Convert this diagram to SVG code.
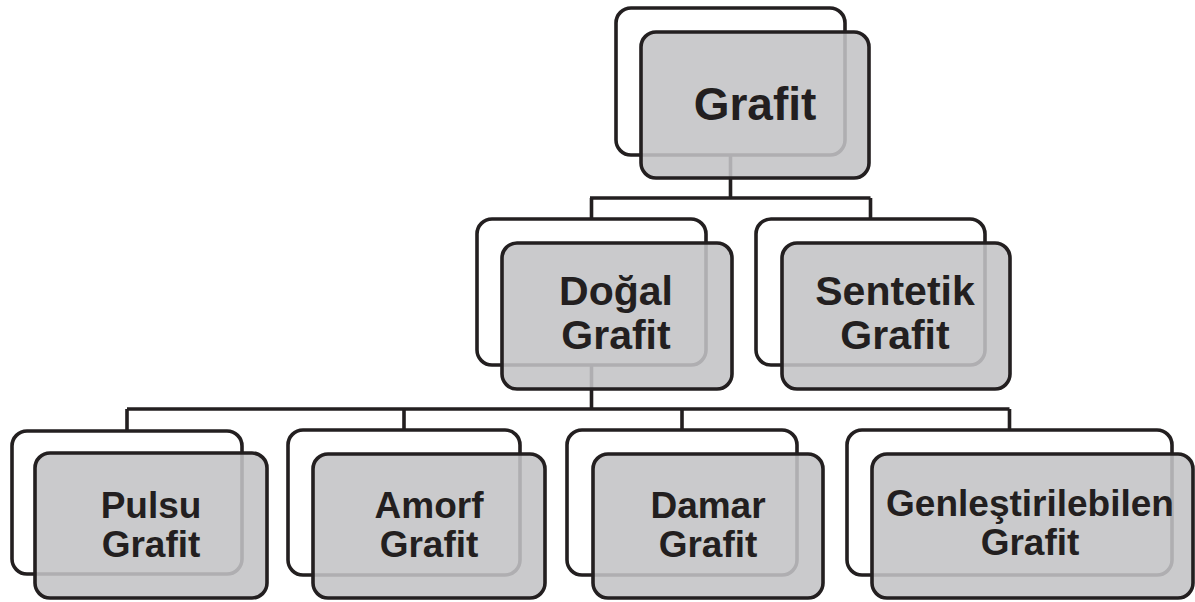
<svg xmlns="http://www.w3.org/2000/svg" width="1195" height="602" viewBox="0 0 1195 602">
  <style>
    .back { fill: #ffffff; stroke: #231f20; stroke-width: 3.6; }
    .front { fill: #c3c3c5; fill-opacity: 0.88; stroke: #231f20; stroke-width: 3.6; }
    .wire { fill: none; stroke: #231f20; stroke-width: 3.6; }
    .lbl { font-family: "Liberation Sans", Arial, sans-serif; font-weight: bold; fill: #231f20; text-anchor: middle; }
    .l1 { font-size: 46px; }
    .l2 { font-size: 41px; }
    .l3 { font-size: 37px; }
  </style>
  <rect width="1195" height="602" fill="#ffffff"/>

  <!-- tree connectors -->
  <g id="connectors">
    <path class="wire" d="M730.5 155 V198 M590 198 H870.5 M591.5 198 V219 M870.5 198 V219"/>
    <path class="wire" d="M591.5 365 V409 M127 409 H1009.5 M127 409 V431 M404 409 V430 M682 409 V430 M1009.5 409 V430"/>
  </g>

  <g id="node-grafit">
    <rect class="back" x="616" y="8" width="229" height="147" rx="15"/>
    <rect class="front" x="641" y="32" width="228" height="146" rx="15"/>
    <text class="lbl l1" x="755" y="120">Grafit</text>
  </g>

  <g id="node-dogal">
    <rect class="back" x="477" y="219" width="229" height="146" rx="15"/>
    <rect class="front" x="502" y="243" width="230" height="146" rx="15"/>
    <text class="lbl l2" x="616" y="305">Doğal</text>
    <text class="lbl l2" x="616" y="349">Grafit</text>
  </g>

  <g id="node-sentetik">
    <rect class="back" x="756" y="219" width="229" height="146" rx="15"/>
    <rect class="front" x="782" y="243" width="228" height="146" rx="15"/>
    <text class="lbl l2" x="895" y="305">Sentetik</text>
    <text class="lbl l2" x="895" y="349">Grafit</text>
  </g>

  <g id="node-pulsu">
    <rect class="back" x="12" y="431" width="230" height="143" rx="15"/>
    <rect class="front" x="35" y="453" width="232" height="145" rx="15"/>
    <text class="lbl l3" x="151" y="518">Pulsu</text>
    <text class="lbl l3" x="151" y="557">Grafit</text>
  </g>

  <g id="node-amorf">
    <rect class="back" x="288" y="430" width="232" height="145" rx="15"/>
    <rect class="front" x="313" y="454" width="232" height="144" rx="15"/>
    <text class="lbl l3" x="429" y="518">Amorf</text>
    <text class="lbl l3" x="429" y="557">Grafit</text>
  </g>

  <g id="node-damar">
    <rect class="back" x="567" y="430" width="230" height="145" rx="15"/>
    <rect class="front" x="593" y="454" width="230" height="144" rx="15"/>
    <text class="lbl l3" x="708" y="518">Damar</text>
    <text class="lbl l3" x="708" y="557">Grafit</text>
  </g>

  <g id="node-genlestirilebilen">
    <rect class="back" x="847" y="430" width="325" height="145" rx="15"/>
    <rect class="front" x="872" y="454" width="321" height="144" rx="15"/>
    <text class="lbl l3" x="1030" y="516">Genleştirilebilen</text>
    <text class="lbl l3" x="1030" y="555">Grafit</text>
  </g>
</svg>
